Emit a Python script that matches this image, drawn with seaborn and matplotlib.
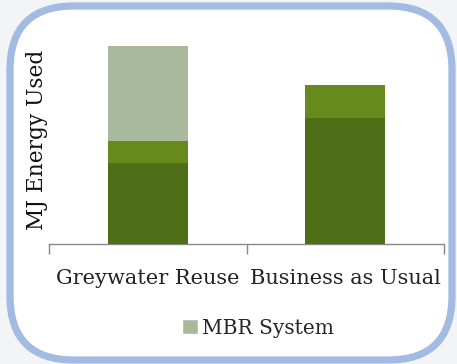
import matplotlib
matplotlib.use("Agg")
import matplotlib.pyplot as plt
from matplotlib.patches import FancyBboxPatch, Patch
import seaborn as sns
import pandas as pd

# Energy use per scenario, stacked by component
scenarios = ["Greywater Reuse", "Business as Usual"]
base_energy = [81, 126]
secondary_energy = [22, 33]
mbr_system = [95, 0]

colors = {"base": "#4F6E18", "secondary": "#668A1D", "mbr": "#A9B99C"}

sns.set_theme(style="white")
plt.rcParams["font.family"] = ["DejaVu Serif"]

W, H = 457, 364
fig = plt.figure(figsize=(W / 100, H / 100), dpi=100)
fig.patch.set_facecolor("#F3F4F6")

# Rounded frame behind the chart
frame = FancyBboxPatch((10 / W, 1 - 360 / H), 442 / W, 354 / H,
                       boxstyle="round,pad=0,rounding_size=0.14",
                       transform=fig.transFigure, facecolor="white",
                       edgecolor="#A3BBE2", linewidth=5.2, zorder=-1,
                       mutation_aspect=W / H)
fig.patches.append(frame)

ax = fig.add_axes([49 / W, 1 - 244 / H, 395 / W, 214 / H])
ax.set_zorder(1)
ax.set_facecolor("none")

df = pd.DataFrame({"scenario": scenarios, "base": base_energy,
                   "secondary": secondary_energy, "mbr": mbr_system})
df["b2"] = df["base"] + df["secondary"]
df["b3"] = df["b2"] + df["mbr"]

bw = 0.405
for col, key, z in [("b3", "mbr", 1), ("b2", "secondary", 2), ("base", "base", 3)]:
    sns.barplot(data=df, x="scenario", y=col, color=colors[key], width=bw,
                saturation=1, linewidth=0, ax=ax, zorder=z)

ax.set_xlim(-0.5, 1.5)
ax.set_ylim(0, 214)
ax.set_yticks([])
ax.set_xticks([-0.5, 0.5, 1.5], minor=False)
ax.set_xticklabels([])
for i, name in enumerate(scenarios):
    ax.text(i, -0.115, name, transform=ax.get_xaxis_transform(),
            ha="center", va="top", fontsize=15, color="#222222",
            family=["DejaVu Serif"])
ax.tick_params(axis="x", length=7, width=1, color="#888888", direction="out",
               bottom=True)
for s in ["top", "right", "left"]:
    ax.spines[s].set_visible(False)
ax.spines["bottom"].set_color("#888888")
ax.spines["bottom"].set_linewidth(1)
ax.set_xlabel("")
ax.set_ylabel("MJ Energy Used", fontsize=15.6, color="#111111")
ax.yaxis.set_label_coords(-0.0025, 0.486)

ax.legend(handles=[Patch(facecolor=colors["mbr"], label="MBR System")],
          loc="center", bbox_to_anchor=(258 / W, 1 - 328 / H),
          bbox_transform=fig.transFigure, frameon=False, fontsize=14.5,
          handlelength=0.8, handleheight=0.8, handletextpad=0.2)

fig.savefig("out.png", dpi=100)
